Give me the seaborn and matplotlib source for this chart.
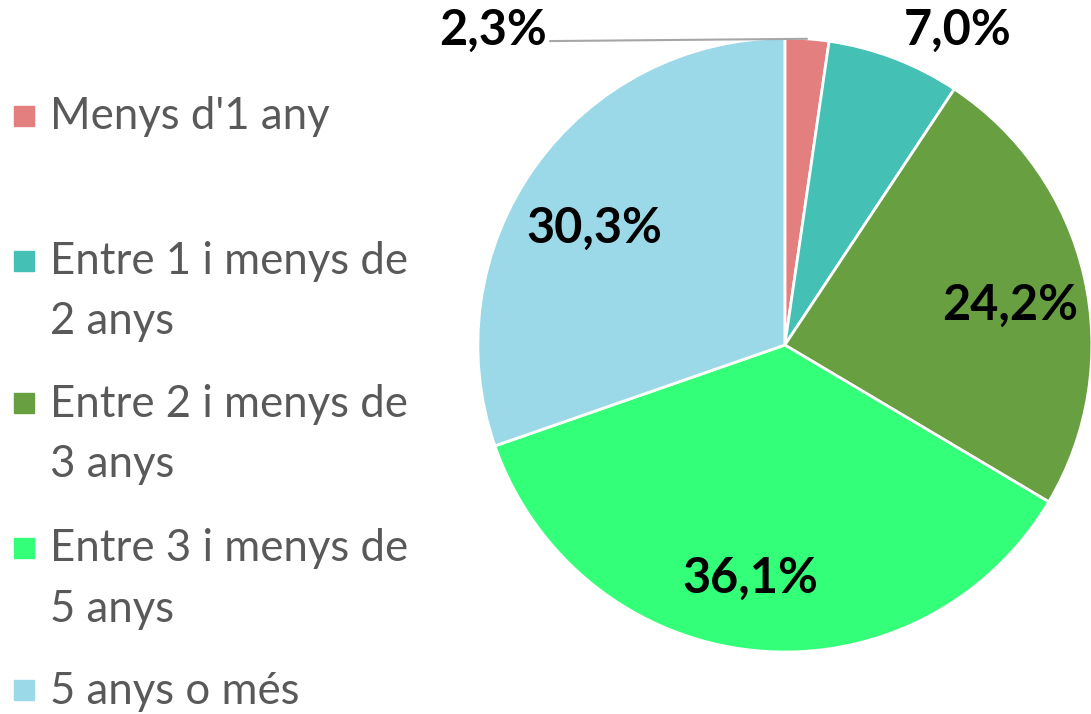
import numpy as np
import matplotlib.pyplot as plt
import matplotlib.patches as mpatches
import seaborn as sns

categories = ["Menys d'1 any", "Entre 1 i menys de\n2 anys", "Entre 2 i menys de\n3 anys",
              "Entre 3 i menys de\n5 anys", "5 anys o més"]
values = [2.3, 7.0, 24.2, 36.1, 30.3]
pct_labels = ["2,3%", "7,0%", "24,2%", "36,1%", "30,3%"]
colors = ["#E47F7F", "#45C0B5", "#679F41", "#33FF78", "#9BD9E8"]

sns.set_theme(style="white")
plt.rcParams["font.family"] = ["Lato", "DejaVu Sans"]

fig = plt.figure(figsize=(10.91, 7.14), dpi=100)
ax = fig.add_axes([0.438, 0.0868, 0.5628, 0.86])
wedges, _ = ax.pie(values, colors=sns.color_palette(colors), startangle=90, counterclock=False,
                   radius=1, wedgeprops=dict(edgecolor="white", linewidth=2))
ax.set_xlim(-1, 1)
ax.set_ylim(-1, 1)
ax.set_aspect("equal")
ax.axis("off")

# label places in pie units
label_xy = [(-0.951, 1.026), (0.564, 1.026), (0.733, 0.13), (-0.114, -0.759), (-0.619, 0.381)]
for (x, y), lab in zip(label_xy, pct_labels):
    ax.text(x, y, lab, ha="center", va="center", fontsize=35, fontweight="bold",
            color="black", clip_on=False)

# leader line for the small slice
w = wedges[0]
mid = np.deg2rad((w.theta1 + w.theta2) / 2)
ax.plot([-0.765, np.cos(mid)], [0.99, np.sin(mid)], color="#A6A6A6", lw=1.5, clip_on=False)

# legend
legend_y = [0.838, 0.635, 0.435, 0.233, 0.033]
for ypos, cat, col in zip(legend_y, categories, colors):
    fig.patches.append(mpatches.Rectangle((0.0128, ypos - 0.014), 0.0183, 0.028,
                                          transform=fig.transFigure, color=col))
    fig.text(0.046, ypos + 0.027, cat, fontsize=31.5, color="#595959", va="top",
             linespacing=1.58)

fig.savefig("out.png", dpi=100)
